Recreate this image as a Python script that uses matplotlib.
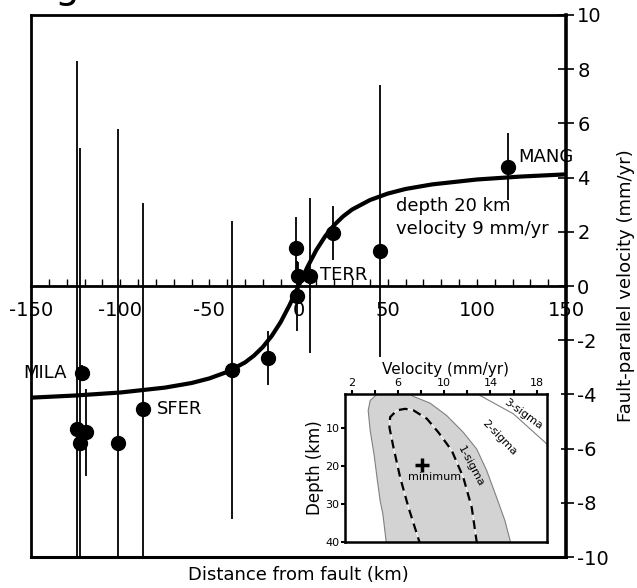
import numpy as np
import matplotlib
matplotlib.use("Agg")
import matplotlib.pyplot as plt
from matplotlib.patches import Rectangle

plt.rcParams['font.family'] = ['DejaVu Sans']
plt.rcParams['axes.unicode_minus'] = False

# GPS stations: distance from fault (km), fault-parallel velocity (mm/yr), 1-sigma error
dist = [-124.0, -121.6, -119.3, -122.8, -101.0, -87.4, -37.5, -17.3, -1.0, -1.5, -0.1, 6.4, 19.2, 45.7, 117.3]
vel = [-5.28, -3.21, -5.40, -5.80, -5.80, -4.54, -3.09, -2.66, -0.36, 1.40, 0.38, 0.38, 1.96, 1.30, 4.40]
err = [13.6, 0.3, 1.6, 10.9, 11.6, 7.6, 5.5, 1.0, 1.3, 1.15, 0.5, 2.85, 1.0, 6.1, 1.24]

# best-fit model curve
curve_x = [-150, -125, -100, -75, -60, -50, -40, -30, -25, -20, -15, -10, -5, 0,
           5, 10, 15, 20, 25, 30, 40, 50, 60, 75, 100, 125, 150]
curve_y = [-4.12, -4.04, -3.93, -3.75, -3.58, -3.41, -3.17, -2.82, -2.57, -2.25, -1.84, -1.33, -0.70, 0.0,
           0.70, 1.33, 1.84, 2.25, 2.57, 2.82, 3.17, 3.41, 3.58, 3.75, 3.93, 4.04, 4.12]

# station labels
stations = ["MILA", "SFER", "TERR", "MANG"]
station_x = [-130, -79.4, 12.1, 123.1]
station_y = [-3.2, -4.54, 0.4, 4.76]

# inset: misfit contours in velocity / depth space
gray_v = [4.4, 4.16, 3.58, 3.41, 3.58, 3.93, 4.21, 4.45, 4.68, 4.97, 5.0,
          15.8, 15.74, 15.26, 14.54, 13.68, 12.81, 11.65, 10.22, 8.77, 7.30, 6.8]
gray_d = [0.0, 1.1, 2.7, 5.34, 10.6, 17.2, 23.9, 29.2, 32.6, 40, 41,
          41, 40, 34.4, 28.3, 21.2, 15.5, 11.1, 6.7, 3.4, 1.6, 0.0]
dash_v = [7.95, 7.85, 6.90, 6.18, 5.60, 5.25, 5.31, 5.89, 6.61, 7.33, 8.49, 9.49, 10.65, 11.65, 12.38, 12.81, 12.85]
dash_d = [41, 40, 30.9, 23.0, 15.1, 9.8, 7.1, 5.3, 4.9, 5.3, 7.5, 11.1, 15.9, 23.0, 30.9, 40, 41]
three_v = [12.9, 13.1, 15.98, 18.72, 19.3]
three_d = [0.5, 1.4, 6.2, 13.7, 15.4]
min_v, min_d = 8.06, 19.6

fig = plt.figure(figsize=(6.37, 5.88), dpi=100)
ax = fig.add_axes([0.0487, 0.0527, 0.8399, 0.9218])

ax.plot(curve_x, curve_y, color="k", lw=3, solid_capstyle="butt", zorder=2)
ax.errorbar(dist, vel, yerr=err, fmt="o", ms=10, color="k", elinewidth=1.3, capsize=0, zorder=3)

for name, sx, sy in zip(stations, station_x, station_y):
    ha = "right" if name == "MILA" else "left"
    ax.text(sx, sy, name, ha=ha, va="center", fontsize=13, clip_on=False, zorder=4)
ax.text(54.7, 2.95, "depth 20 km", fontsize=13, va="center")
ax.text(54.7, 2.10, "velocity 9 mm/yr", fontsize=13, va="center")

ax.set_xlim(-150, 150)
ax.set_ylim(-10, 10)

# x axis runs through zero
ax.spines["bottom"].set_position(("data", 0))
ax.spines["bottom"].set_linewidth(2)
ax.set_xticks([-150, -100, -50, 0, 50, 100, 150])
ax.set_xticks(np.arange(-150, 151, 10), minor=True)
ax.tick_params(axis="x", which="both", direction="in", length=5, width=1, pad=11, labelsize=14)
ax.axhline(-10, color="k", lw=2.2, clip_on=False)

ax.yaxis.tick_right()
ax.yaxis.set_label_position("right")
ax.set_yticks(np.arange(-10, 11, 2))
ax.tick_params(axis="y", direction="inout", length=12, width=1.2, pad=2, labelsize=14)
ax.spines["right"].set_linewidth(2.6)
ax.spines["left"].set_linewidth(2)
ax.spines["top"].set_linewidth(2)
ax.set_ylabel("Fault-parallel velocity (mm/yr)", fontsize=13, labelpad=6)
ax.text(0.5, -0.033, "Distance from fault (km)", transform=ax.transAxes,
        ha="center", va="center", fontsize=13)

# cut-off title fragment at the top
fig.text(67 / 637, 1.0034, "g", ha="center", va="baseline", fontsize=28)

# white backing behind the inset
fig.add_artist(Rectangle((0.471, 0.0578), 0.41, 0.335, transform=fig.transFigure,
                         facecolor="white", edgecolor="none", zorder=1))

ins = fig.add_axes([0.5416, 0.0782, 0.3171, 0.2517], zorder=2)
ins.fill(gray_v, gray_d, facecolor="#d3d3d3", edgecolor="#808080", lw=0.8)
ins.plot(dash_v, dash_d, color="white", lw=0.7)
ins.plot(dash_v, dash_d, color="k", lw=1.6, linestyle=(0, (4, 2.5)))
ins.plot(three_v, three_d, color="#808080", lw=0.8)
ins.plot([min_v], [min_d], marker="+", color="k", ms=10, mew=2.5)
ins.text(9.15, 22.8, "minimum", ha="center", va="center", fontsize=8)
ins.text(12.29, 20.2, "1-sigma", ha="center", va="center", fontsize=8, rotation=-62)
ins.text(14.74, 12.4, "2-sigma", ha="center", va="center", fontsize=8, rotation=-46)
ins.text(16.84, 6.2, "3-sigma", ha="center", va="center", fontsize=8, rotation=-36)

ins.set_xlim(1.4, 18.9)
ins.set_ylim(40, 1)
ins.xaxis.tick_top()
ins.xaxis.set_label_position("top")
ins.set_xticks([2, 6, 10, 14, 18])
ins.set_xticks([4, 8, 12, 16], minor=True)
ins.set_yticks([10, 20, 30, 40])
ins.tick_params(which="both", direction="out", length=3, width=1.5, pad=1, labelsize=8)
ins.set_xlabel("Velocity (mm/yr)", fontsize=11, labelpad=3)
ins.set_ylabel("Depth (km)", fontsize=12, labelpad=1)
for s in ins.spines.values():
    s.set_linewidth(1.8)

fig.savefig("out.png", dpi=100)
